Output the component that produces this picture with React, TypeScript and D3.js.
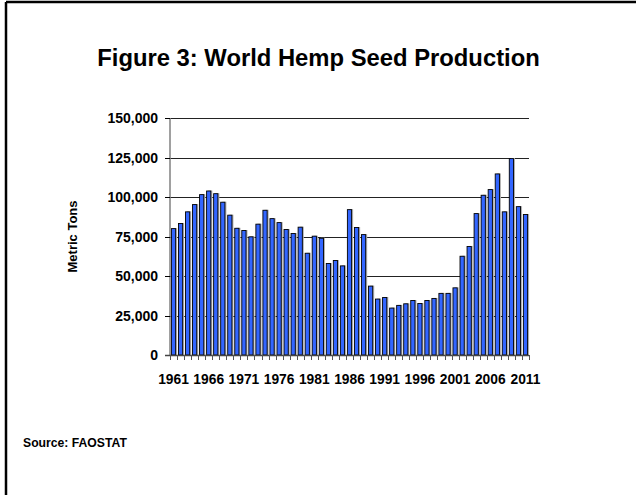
import React from "react";
import * as d3 from "d3";

// World hemp seed production, metric tons, 1961–2011 (FAOSTAT)
const years: number[] = d3.range(1961, 2012);
const production: number[] = [
  80000, 83200, 90600, 95200, 101500, 103800, 102100, 96700, 88500, 80200,
  78800, 74800, 82800, 91600, 86300, 83800, 79400, 76900, 80900, 64400,
  75200, 73900, 57900, 59800, 56400, 92000, 80700, 76200, 43600, 35400,
  36400, 29700, 31400, 32400, 34500, 32600, 34500, 35800, 39000, 39000,
  42500, 62500, 68700, 89500, 101100, 104700, 114600, 90600, 124300, 93900,
  88900,
];
const yTicks: number[] = [0, 25000, 50000, 75000, 100000, 125000, 150000];
const labelYears: number[] = years.filter((y) => (y - 1961) % 5 === 0);

const W = 636;
const H = 495;
const plot = { left: 170, right: 529, top: 118, bottom: 355 };
const FONT = "'Liberation Sans', Arial, Helvetica, sans-serif";

export default function App() {
  const x = d3
    .scaleBand<number>()
    .domain(years)
    .range([plot.left, plot.right])
    .paddingInner(0.4)
    .paddingOuter(0.2);
  const y = d3.scaleLinear().domain([0, 150000]).range([plot.bottom, plot.top]);
  const fmt = d3.format(",");
  const bw = x.bandwidth();
  const boundaries = d3.range(years.length + 1).map(
    (i) => plot.left + (plot.right - plot.left) * (i / years.length)
  );

  return (
    <svg
      width={W}
      height={H}
      style={{ position: "absolute", left: 0, top: 0, background: "#fff" }}
      fontFamily={FONT}
    >
      <rect x={0} y={0} width={W} height={H} fill="#fff" />
      {/* frame */}
      <line x1={6} y1={2} x2={W + 2} y2={2} stroke="#000" strokeWidth={2.5} />
      <line x1={6} y1={2} x2={6} y2={H + 2} stroke="#000" strokeWidth={2.5} />

      <text
        x={318.5}
        y={66}
        textAnchor="middle"
        fontSize={23.8}
        fontWeight="bold"
        fill="#000"
      >
        Figure 3: World Hemp Seed Production
      </text>

      {/* gridlines */}
      {yTicks.filter((t) => t > 0).map((t) => (
        <line
          key={"g" + t}
          x1={plot.left}
          x2={plot.right}
          y1={Math.round(y(t)) + 0.5}
          y2={Math.round(y(t)) + 0.5}
          stroke="#222"
          strokeWidth={1}
        />
      ))}

      {/* bars with a soft grey shadow */}
      {years.map((yr, i) => {
        const bx = x(yr) as number;
        const by = y(production[i]);
        return (
          <g key={yr}>
            <rect
              x={bx + 1.5}
              y={by - 0.5}
              width={bw}
              height={plot.bottom - by + 0.5}
              fill="#b0b0b0"
            />
            <rect
              x={bx}
              y={by}
              width={bw}
              height={plot.bottom - by}
              fill="#3366ff"
              stroke="#000"
              strokeWidth={0.9}
            />
          </g>
        );
      })}

      {/* y axis */}
      <line
        x1={plot.left}
        x2={plot.left}
        y1={plot.top}
        y2={plot.bottom}
        stroke="#808080"
        strokeWidth={1.5}
      />
      {yTicks.map((t) => (
        <g key={"yt" + t}>
          <line
            x1={plot.left - 5}
            x2={plot.left}
            y1={Math.round(y(t)) + 0.5}
            y2={Math.round(y(t)) + 0.5}
            stroke="#000"
          />
          <text
            x={plot.left - 12}
            y={y(t)}
            dy="0.36em"
            textAnchor="end"
            fontSize={14}
            fontWeight="bold"
          >
            {fmt(t)}
          </text>
        </g>
      ))}

      {/* x axis */}
      <line
        x1={plot.left - 5}
        x2={plot.right}
        y1={plot.bottom + 0.5}
        y2={plot.bottom + 0.5}
        stroke="#444"
        strokeWidth={1.5}
      />
      {boundaries.map((bx, i) => (
        <line
          key={"xt" + i}
          x1={Math.round(bx) + 0.5}
          x2={Math.round(bx) + 0.5}
          y1={plot.bottom}
          y2={plot.bottom + 5}
          stroke="#555"
        />
      ))}
      {labelYears.map((yr) => (
        <text
          key={"xl" + yr}
          x={(x(yr) as number) + bw / 2}
          y={384}
          textAnchor="middle"
          fontSize={13.8}
          fontWeight="bold"
        >
          {yr}
        </text>
      ))}

      <text
        transform={`translate(77, ${(plot.top + plot.bottom) / 2}) rotate(-90)`}
        textAnchor="middle"
        fontSize={13}
        fontWeight="bold"
      >
        Metric Tons
      </text>

      <text x={23} y={447} fontSize={12.2} fontWeight="bold">
        Source: FAOSTAT
      </text>
    </svg>
  );
}
